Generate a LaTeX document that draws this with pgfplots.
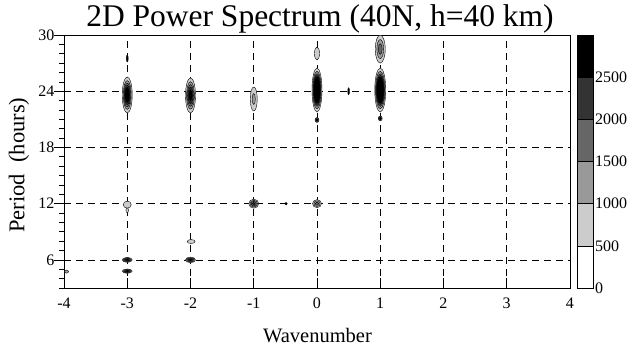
\documentclass[border=0pt]{standalone}
\usepackage{fontspec}
\setmainfont{Liberation Serif}
\usepackage{pgfplots}
\usepackage{pgfplotstable}
\pgfplotsset{compat=1.18}

\pgfdeclareplotmark{blob}{%
  \pgfpathellipse{\pgfpointorigin}{\pgfpoint{\blobrx pt}{0pt}}{\pgfpoint{0pt}{\blobry pt}}%
  \pgfusepathqfillstroke}

% x y rx(pt) ry(pt) gray-fill ; each blob listed outer contour first
\pgfplotstableread{
x y rx ry g
-3 23.6 5.0 18.0 0.8
-3 23.6 4.0 14.4 0.6
-3 23.6 3.3 11.9 0.4
-3 23.6 2.7 9.6 0.2
-3 23.6 2.1 7.5 0
-3 23.6 1.4 5.1 0
-2 23.55 5.0 17.5 0.8
-2 23.55 3.9 13.7 0.6
-2 23.55 3.1 10.9 0.4
-2 23.55 2.4 8.3 0.2
-2 23.55 1.6 5.6 0
-1 23.17 3.5 12.0 0.8
-1 23.17 1.6 5.5 0.6
0 24.13 5.0 22.0 0.8
0 24.13 4.3 18.7 0.6
0 24.13 3.8 16.4 0.4
0 24.13 3.4 14.6 0.2
0 24.13 3.0 13.1 0
0 24.13 2.7 11.6 0
0 24.13 2.4 10.3 0
0 24.13 2.0 8.9 0
0 24.13 1.7 7.5 0
0 24.13 1.4 6.0 0
0 24.13 0.9 4.1 0
1 24.13 5.5 22.0 0.8
1 24.13 4.7 18.7 0.6
1 24.13 4.1 16.4 0.4
1 24.13 3.7 14.6 0.2
1 24.13 3.3 13.1 0
1 24.13 2.9 11.6 0
1 24.13 2.6 10.3 0
1 24.13 2.2 8.9 0
1 24.13 1.9 7.5 0
1 24.13 1.5 6.0 0
1 24.13 1.0 4.1 0
0 28.03 2.5 6.5 0.8
1 28.5 5.0 14.0 0.8
1 28.5 3.4 9.5 0.6
1 28.5 1.9 5.3 0.4
0 20.93 2.0 2.5 0.4
0 20.93 1.2 1.5 0
1 21.1 2.0 2.5 0.4
1 21.1 1.2 1.5 0
0.5 24.0 0.9 3.5 0
-3 27.5 1.0 3.5 0
-3 11.3 1.3 2.5 0.8
-3 11.9 4.0 3.5 0.8
-1 12.0 5.0 4.5 0.8
-1 12.0 3.8 3.4 0.6
-1 12.0 2.6 2.3 0.4
-1 12.0 1.4 1.2 0.2
0 12.0 4.5 4.0 0.8
0 12.0 3.2 2.8 0.6
0 12.0 1.9 1.6 0.4
-0.49 12.0 1.3 1.3 0
-1.99 7.96 4.0 2.0 0.8
-3 6.0 5.0 2.5 0.8
-3 6.0 4.0 2.0 0.6
-3 6.0 3.0 1.5 0.4
-3 6.0 2.0 1.0 0.2
-3 6.0 1.0 0.6 0
-2 6.0 5.0 2.8 0.8
-2 6.0 4.0 2.2 0.6
-2 6.0 3.0 1.6 0.4
-2 6.0 2.0 1.1 0.2
-2 6.0 1.0 0.6 0
-3 4.8 5.0 2.2 0.8
-3 4.8 4.0 1.8 0.6
-3 4.8 3.0 1.3 0.4
-3 4.8 2.0 0.9 0.2
-3 4.8 1.0 0.5 0
-3.96 4.75 2.0 1.5 0.6
}\blobs

\begin{document}
\begin{tikzpicture}
\path[use as bounding box] (-64pt,-61pt) rectangle (571pt,288pt);
\begin{axis}[
  at={(0pt,0pt)}, anchor=south west,
  scale only axis, width=506pt, height=253pt,
  xmin=-4, xmax=4, ymin=3, ymax=30,
  xtick={-4,...,4}, ytick={6,12,18,24,30},
  minor ytick={3,4,5,7,8,9,10,11,13,14,15,16,17,19,20,21,22,23,25,26,27,28,29},
  tick pos=left,
  xtick align=inside, ytick align=outside,
  major tick length=10pt, minor tick length=5pt,
  tick style={black, line width=0.7pt},
  axis line style={line width=0.8pt},
  grid=major,
  major grid style={black, line width=0.6pt, dash pattern=on 7pt off 5pt},
  /pgf/number format/assume math mode=true,
  tick label style={font=\fontsize{16}{16}\selectfont},
  xticklabel style={yshift=-6pt},
  yticklabel style={xshift=4pt},
  title={2D Power Spectrum (40N, h=40 km)},
  title style={font=\fontsize{31.5}{32}\selectfont, at={(axis description cs:0.506,1)}, anchor=base, yshift=3pt},
  xlabel={Wavenumber},
  xlabel style={font=\fontsize{20.5}{21}\selectfont, at={(axis description cs:0.501,0)}, anchor=base, yshift=-54.7pt},
  ylabel={Period\hspace{0.5em}(hours)},
  ylabel style={font=\fontsize{22.5}{23}\selectfont, at={(axis description cs:-0.0889,0.486)}, anchor=center},
  clip marker paths=true,
]
\addplot[only marks, mark=blob, scatter,
  visualization depends on={\thisrow{rx} \as \blobrx},
  visualization depends on={\thisrow{ry} \as \blobry},
  visualization depends on={\thisrow{g} \as \blobg},
  scatter/@pre marker code/.code={\definecolor{blobfill}{gray}{\blobg}\scope[fill=blobfill,draw=black,line width=0.4pt]},
  scatter/@post marker code/.code={\endscope},
] table[x=x, y=y] {\blobs};
\end{axis}
\begin{axis}[
  at={(513pt,0pt)}, anchor=south west,
  scale only axis, width=16pt, height=253pt,
  xmin=0, xmax=1, ymin=0, ymax=3000,
  xtick=\empty, ytick={0,500,1000,1500,2000,2500},
  yticklabel pos=right,
  major tick length=0pt,
  axis line style={line width=0.7pt},
  /pgf/number format/assume math mode=true,
  /pgf/number format/set thousands separator={},
  yticklabel style={font=\fontsize{16}{16}\selectfont, anchor=west, xshift=-1.5pt},
  axis on top,
]
\addplot[fill=white, draw=black, line width=0.6pt] coordinates {(0,0)(1,0)(1,500)(0,500)(0,0)};
\addplot[fill={rgb,255:red,204;green,204;blue,204}, draw=black, line width=0.6pt] coordinates {(0,500)(1,500)(1,1000)(0,1000)(0,500)};
\addplot[fill={rgb,255:red,153;green,153;blue,153}, draw=black, line width=0.6pt] coordinates {(0,1000)(1,1000)(1,1500)(0,1500)(0,1000)};
\addplot[fill={rgb,255:red,102;green,102;blue,102}, draw=black, line width=0.6pt] coordinates {(0,1500)(1,1500)(1,2000)(0,2000)(0,1500)};
\addplot[fill={rgb,255:red,51;green,51;blue,51}, draw=black, line width=0.6pt] coordinates {(0,2000)(1,2000)(1,2500)(0,2500)(0,2000)};
\addplot[fill=black, draw=black, line width=0.6pt] coordinates {(0,2500)(1,2500)(1,3000)(0,3000)(0,2500)};
\end{axis}
\end{tikzpicture}
\end{document}
